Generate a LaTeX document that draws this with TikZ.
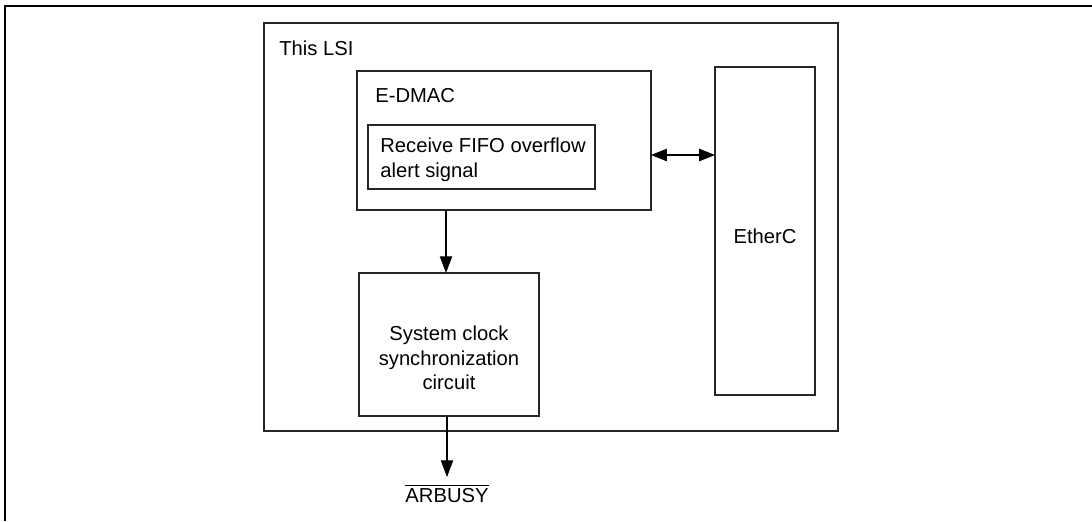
\documentclass[tikz,border=0pt]{standalone}
\usepackage{fontspec}
\setmainfont{Liberation Sans}
\usetikzlibrary{arrows.meta}
\begin{document}
\begin{tikzpicture}[x=0.02cm,y=-0.02cm,
  box/.style={draw=black!85,line width=1.1pt,inner sep=0pt,outer sep=0pt},
  txt/.style={font=\fontsize{11.5}{13.7}\selectfont,inner sep=0pt},
  lbl/.style={txt,anchor=base west},
  conn/.style={line width=0.65pt,-{Triangle[length=9.5pt,width=7pt]}},
  dconn/.style={line width=0.65pt,{Triangle[length=9pt,width=7pt]}-{Triangle[length=9pt,width=7pt]}}]
\useasboundingbox (0,0) rectangle (1092,521);
\draw[line width=1.3pt] (5,521) -- (5,6) -- (1092,6);
\node[box,minimum width=574*0.02cm,minimum height=408*0.02cm] (lsi) at (551,227) {};
\node[lbl] (lsit) at (279,55) {This LSI};
\node[box,minimum width=294*0.02cm,minimum height=139*0.02cm] (edmac) at (504,140.5) {};
\node[lbl] (edmact) at (375,102) {E-DMAC};
\node[box,minimum width=227*0.02cm,minimum height=64*0.02cm] (fifo) at (481.5,157) {};
\node[lbl] (fifot1) at (380,152) {Receive FIFO overflow};
\node[lbl] (fifot2) at (380,177) {alert signal};
\node[box,minimum width=100*0.02cm,minimum height=328*0.02cm] (eth) at (765,231) {};
\node[txt] (etht) at (765,236) {EtherC};
\node[box,minimum width=180*0.02cm,minimum height=143*0.02cm] (sys) at (449,344.5) {};
\node[txt,align=center,anchor=north] (syst) at (449,326) {System clock\\synchronization\\circuit};
\node[txt,anchor=base] (arb) at (447,502) {$\overline{\mbox{ARBUSY}}$};
\coordinate (arbtop) at (447,477);
\draw[conn] (edmac.south -| 446,0) -- (sys.north -| 446,0);
\draw[dconn] (edmac.east |- 0,155) -- (eth.west |- 0,155);
\draw[conn] (sys.south -| 447,0) -- (arbtop);
\end{tikzpicture}
\end{document}
